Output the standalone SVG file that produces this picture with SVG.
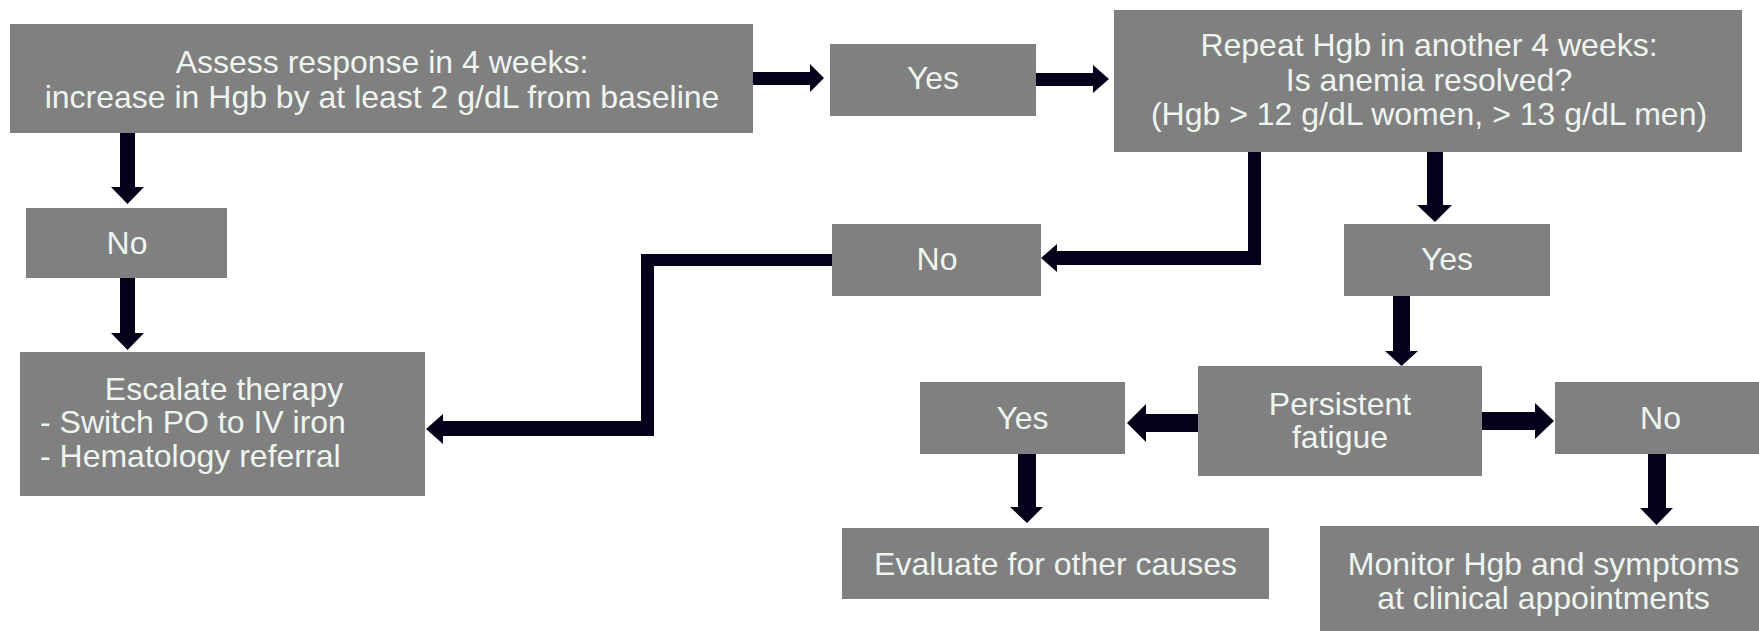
<svg xmlns="http://www.w3.org/2000/svg" width="1759" height="631" viewBox="0 0 1759 631">
<style>
.box{fill:#808080}
.t{font-family:"Liberation Sans",Arial,sans-serif;font-size:32px;fill:#eef5ef;text-anchor:middle}
.l{text-anchor:start}
.arr{fill:#03001a}
</style>
<rect width="1759" height="631" fill="#ffffff"/>
<g id="connectors">
<polygon class="arr" points="753,72 810,72 810,64 824,78 810,92 810,85 753,85"/>
<polygon class="arr" points="1036,73 1093,73 1093,65 1109,79 1093,93 1093,86 1036,86"/>
<polygon class="arr" points="120,133 135,133 135,187 144,187 127.5,204 111,187 120,187"/>
<polygon class="arr" points="120,278 135,278 135,333 144,333 127.5,350 111,333 120,333"/>
<polygon class="arr" points="1248,152 1261,152 1261,265 1057,265 1057,272 1041,258 1057,244 1057,251 1248,251"/>
<polygon class="arr" points="832,254 832,266 654,266 654,436 443,436 443,444 426,429 443,414 443,421 641,421 641,254"/>
<polygon class="arr" points="1427,152 1443,152 1443,205 1452,205 1435,222 1417,205 1427,205"/>
<polygon class="arr" points="1393,296 1410,296 1410,351 1418,351 1401.5,366 1385,351 1393,351"/>
<polygon class="arr" points="1198,414 1198,432 1146,432 1146,442 1127,423 1146,404 1146,414"/>
<polygon class="arr" points="1482,412 1535,412 1535,403 1554,421 1535,439 1535,430 1482,430"/>
<polygon class="arr" points="1018,454 1036,454 1036,507 1043,507 1027,523 1010,507 1018,507"/>
<polygon class="arr" points="1648,454 1666,454 1666,508 1673,508 1656.5,525 1640,508 1648,508"/>
</g>
<g id="assess">
<rect class="box" x="10" y="24" width="743" height="109"/>
<text class="t" x="382" y="73">Assess response in 4 weeks:</text>
<text class="t" x="382" y="108">increase in Hgb by at least 2 g/dL from baseline</text>
</g>
<g id="yes1">
<rect class="box" x="830" y="44" width="206" height="72"/>
<text class="t" x="933" y="89">Yes</text>
</g>
<g id="repeat">
<rect class="box" x="1114" y="10" width="628" height="142"/>
<text class="t" x="1429" y="56">Repeat Hgb in another 4 weeks:</text>
<text class="t" x="1429" y="91">Is anemia resolved?</text>
<text class="t" x="1429" y="125">(Hgb &gt; 12 g/dL women, &gt; 13 g/dL men)</text>
</g>
<g id="no1">
<rect class="box" x="26" y="208" width="201" height="70"/>
<text class="t" x="127" y="254">No</text>
</g>
<g id="no2">
<rect class="box" x="832" y="224" width="209" height="72"/>
<text class="t" x="937" y="270">No</text>
</g>
<g id="yes2">
<rect class="box" x="1344" y="224" width="206" height="72"/>
<text class="t" x="1447" y="270">Yes</text>
</g>
<g id="escalate">
<rect class="box" x="20" y="352" width="405" height="144"/>
<text class="t" x="224" y="400">Escalate therapy</text>
<text class="t l" x="40" y="433">- Switch PO to IV iron</text>
<text class="t l" x="40" y="467">- Hematology referral</text>
</g>
<g id="persistent">
<rect class="box" x="1198" y="366" width="284" height="110"/>
<text class="t" x="1340" y="415">Persistent</text>
<text class="t" x="1340" y="448">fatigue</text>
</g>
<g id="yes3">
<rect class="box" x="920" y="382" width="205" height="72"/>
<text class="t" x="1022.5" y="429">Yes</text>
</g>
<g id="no3">
<rect class="box" x="1555" y="382" width="211" height="72"/>
<text class="t" x="1660.5" y="429">No</text>
</g>
<g id="evaluate">
<rect class="box" x="842" y="528" width="427" height="71"/>
<text class="t" x="1055.5" y="575">Evaluate for other causes</text>
</g>
<g id="monitor">
<rect class="box" x="1320" y="526" width="447" height="115"/>
<text class="t" x="1543.5" y="575">Monitor Hgb and symptoms</text>
<text class="t" x="1543.5" y="609">at clinical appointments</text>
</g>
</svg>
